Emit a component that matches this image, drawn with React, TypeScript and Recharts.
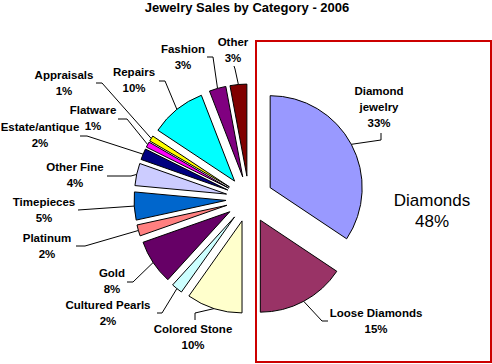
import React from 'react';
import { PieChart, Pie, Cell } from 'recharts';

const TITLE = 'Jewelry Sales by Category - 2006';

// Clockwise from 12 o'clock
const categories = [
  'Diamond jewelry',
  'Loose Diamonds',
  'Colored Stone',
  'Cultured Pearls',
  'Gold',
  'Platinum',
  'Timepieces',
  'Other Fine',
  'Estate/antique',
  'Flatware',
  'Appraisals',
  'Repairs',
  'Fashion',
  'Other',
];
const shares = [33, 15, 10, 2, 8, 2, 5, 4, 2, 1, 1, 10, 3, 3];

// 0 = diamonds (right half, boxed), 1 = everything else (left half)
const groupOfCategory = [0, 0, 1, 1, 1, 1, 1, 1, 1, 1, 1, 1, 1, 1];
const groupNames = ['Diamonds', 'Other'];

// Excel 2003 default series colours
const colors = [
  '#9999FF', '#993366', '#FFFFCC', '#CCFFFF', '#660066', '#FF8080', '#0066CC',
  '#CCCCFF', '#000080', '#FF00FF', '#FFFF00', '#00FFFF', '#800080', '#800000',
];

const W = 492;
const H = 364;
const CENTER = { x: 249, y: 199 };
const RADIUS = 92;
const EXPLODE = [24, 23];
const FONT = '"Liberation Sans", Arial, sans-serif';
const RAD = Math.PI / 180;

// where each data label sits, plus the leader points on the label side
const labelLayout: { x: number; y: number; wrap?: boolean; lead: number[][] }[] = [
  { x: 379, y: 91, wrap: true, lead: [[381, 133], [381, 140]] },
  { x: 376, y: 313, lead: [[328, 321], [322, 321]] },
  { x: 193, y: 329, lead: [[195, 320], [195, 313]] },
  { x: 108, y: 305, lead: [[157, 313], [162, 313]] },
  { x: 112, y: 273, lead: [[127, 282], [133, 282]] },
  { x: 47, y: 238, lead: [[76, 246], [85, 246]] },
  { x: 44, y: 202, lead: [[78, 210]] },
  { x: 75, y: 167, lead: [[107, 176], [131, 176]] },
  { x: 40, y: 127, lead: [[80, 136], [87, 136]] },
  { x: 93, y: 110, lead: [[118, 119], [127, 119]] },
  { x: 64, y: 75, lead: [[96, 83], [102, 83]] },
  { x: 134, y: 72, lead: [[159, 81], [165, 81]] },
  { x: 183, y: 49, lead: [[207, 57], [213, 57]] },
  { x: 233, y: 42, lead: [[234, 66], [235, 69]] },
];

const sum = (a: number[]) => a.reduce((s, v) => s + v, 0);

// each group fills its own half of the circle
const slices = categories.map((name, i) => {
  const g = groupOfCategory[i];
  const groupSum = sum(shares.filter((_, j) => groupOfCategory[j] === g));
  const before = sum(shares.slice(0, i).filter((_, j) => groupOfCategory[j] === g));
  const from = g * 180 + (180 * before) / groupSum;
  const to = from + (180 * shares[i]) / groupSum;
  const mid = (from + to) / 2;
  const d = EXPLODE[g];
  return {
    name,
    value: shares[i],
    cx: CENTER.x + d * Math.sin(mid * RAD),
    cy: CENTER.y - d * Math.cos(mid * RAD),
    startAngle: 90 - from,
    endAngle: 90 - to,
  };
});

const diamondsTotal = sum(shares.filter((_, j) => groupOfCategory[j] === 0));

const textStyle = {
  fontFamily: FONT,
  fontSize: 11.5,
  fontWeight: 'bold' as const,
  fill: '#000',
};

const renderLabel = (i: number) => (p: any) => {
  const L = labelLayout[i];
  const ax = p.cx + p.outerRadius * Math.cos(-p.midAngle * RAD);
  const ay = p.cy + p.outerRadius * Math.sin(-p.midAngle * RAD);
  const pts = [...L.lead, [ax, ay]].map((q) => q.join(',')).join(' ');
  const lines = L.wrap ? categories[i].split(' ') : [categories[i]];
  lines.push(`${shares[i]}%`);
  return (
    <g key={`lbl-${i}`}>
      <polyline points={pts} fill="none" stroke="#000" strokeWidth={1} />
      {lines.map((t, k) => (
        <text
          key={k}
          x={L.x}
          y={L.y + k * 16}
          textAnchor="middle"
          dominantBaseline="central"
          style={textStyle}
        >
          {t}
        </text>
      ))}
    </g>
  );
};

export default function App() {
  return (
    <div style={{ position: 'absolute', left: 0, top: 0, width: W, height: H, background: '#fff' }}>
      <PieChart width={W} height={H} margin={{ top: 0, right: 0, bottom: 0, left: 0 }}>
        {slices.map((s, i) => (
          <Pie
            key={s.name}
            data={[s]}
            dataKey="value"
            nameKey="name"
            cx={s.cx}
            cy={s.cy}
            outerRadius={RADIUS}
            startAngle={s.startAngle}
            endAngle={s.endAngle}
            stroke="#000"
            strokeWidth={1}
            label={renderLabel(i)}
            labelLine={false}
            isAnimationActive={false}
          >
            <Cell fill={colors[i]} />
          </Pie>
        ))}
      </PieChart>

      {/* Title, the diamonds box and its total */}
      <svg
        width={W}
        height={H}
        style={{ position: 'absolute', left: 0, top: 0, pointerEvents: 'none' }}
      >
        <text
          x={247}
          y={7}
          textAnchor="middle"
          dominantBaseline="central"
          style={{ fontFamily: FONT, fontSize: 13, fontWeight: 'bold', fill: '#000' }}
        >
          {TITLE}
        </text>
        <rect x={256} y={41} width={235} height={321} fill="none" stroke="#CC0000" strokeWidth={2} />
        <text
          x={432}
          y={200}
          textAnchor="middle"
          dominantBaseline="central"
          style={{ fontFamily: FONT, fontSize: 17, fill: '#000' }}
        >
          {groupNames[0]}
        </text>
        <text
          x={432}
          y={221}
          textAnchor="middle"
          dominantBaseline="central"
          style={{ fontFamily: FONT, fontSize: 17, fill: '#000' }}
        >
          {`${diamondsTotal}%`}
        </text>
      </svg>
    </div>
  );
}
